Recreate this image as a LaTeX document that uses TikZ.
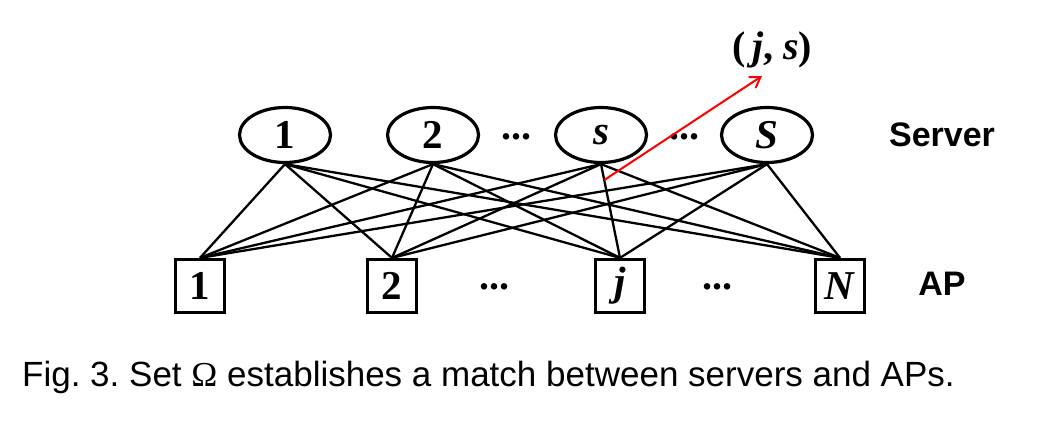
\documentclass[tikz,border=0pt]{standalone}
\usepackage{fontspec}
\setmainfont{Liberation Serif}
\setsansfont{Liberation Sans}
\usetikzlibrary{shapes.geometric,arrows.meta}
\frenchspacing
\begin{document}
\begin{tikzpicture}[x=1pt,y=-1pt,
  srv/.style={ellipse,draw,line width=3.2pt,minimum width=91pt,minimum height=55pt,inner sep=0pt,font=\fontsize{41}{41}\selectfont\bfseries},
  ap/.style={rectangle,draw,line width=3.2pt,minimum width=49pt,minimum height=53pt,inner sep=0pt,font=\fontsize{41}{41}\selectfont\bfseries},
  link/.style={line width=2.3pt},
  dotsl/.style={font=\fontsize{40}{40}\selectfont\bfseries,inner sep=0pt,anchor=base},
  side/.style={font=\fontsize{34}{34}\selectfont\sffamily\bfseries,inner sep=0pt},
  hl/.style={draw=red,line width=2pt,-{Straight Barb[length=10pt,width=13pt]}}]
\useasboundingbox (0,0) rectangle (1038,421);
% servers
\node[srv] (s1) at (285,135) {1};
\node[srv] (s2) at (433,135) {2};
\node[srv] (ss) at (601,135) {\textit{s}};
\node[srv] (sS) at (767,135) {\textit{S}};
\node[dotsl] (d1) at (516,139) {...};
\node[dotsl] (d2) at (684,139) {...};
% APs
\node[ap] (a1) at (200,286) {1};
\node[ap] (a2) at (392,286) {2};
\node[ap] (aj) at (620,286) {\textit{j}};
\node[ap] (aN) at (840,286) {\textit{N}};
\node[dotsl] (d3) at (494,289) {...};
\node[dotsl] (d4) at (717,289) {...};
% links
\foreach \s in {s1,s2,ss,sS}{
  \foreach \a in {a1,a2,aN}{
    \draw[link] (\s.south) -- (\a.north);
  }
}
\draw[link] (s1.south) -- (aj.north);
\draw[link] (s2.south) -- (aj.north);
\draw[link] (sS.south) -- (aj.north);
\draw[link] (ss.south) -- (aj.north) coordinate[pos=0.17] (r0);
% highlighted pair
\node[font=\fontsize{40}{40}\selectfont\bfseries,inner sep=0pt] (lab) at (772,50) {(\,\textit{j}, \textit{s})};
\coordinate (tip) at (762,76);
\draw[hl] (r0) -- (tip);
% side labels
\node[side] (srvlab) at (942,135) {Server};
\node[side] (aplab) at (942,284) {AP};
% caption
\node[font=\fontsize{35}{35}\selectfont\sffamily,inner sep=0pt,anchor=base west] (cap) at (22,386)
  {Fig. 3. Set {\rmfamily\symbol{"03A9}} establishes a match between servers and APs.};
\end{tikzpicture}
\end{document}
